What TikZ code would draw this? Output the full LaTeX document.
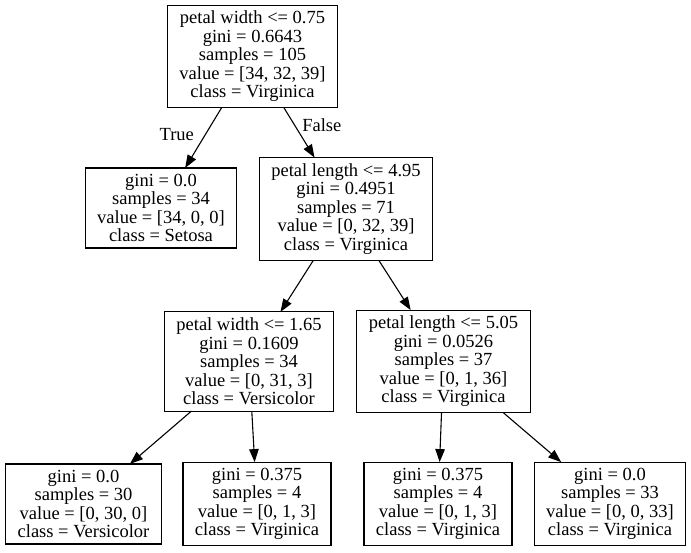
\documentclass[tikz,border=0pt]{standalone}
\usepackage{fontspec}
\setmainfont{Liberation Serif}
\usetikzlibrary{arrows.meta}

\begin{document}
\begin{tikzpicture}[x=1pt,y=-1pt,
  treenode/.style={draw,line width=1.1pt,align=center,inner xsep=12pt,inner ysep=6pt,
    outer sep=0pt,font=\fontsize{18.5}{18.5}\selectfont},
  edgelabel/.style={inner sep=0pt,font=\fontsize{18.5}{18.5}\selectfont}]

\useasboundingbox (0,0) rectangle (691,552);

\node[treenode] (root) at (252.5,56.5)
{petal width <= 0.75\\gini = 0.6643\\samples = 105\\value = [34, 32, 39]\\class = Virginica};

\node[treenode] (setosa) at (161,208)
{gini = 0.0\\samples = 34\\value = [34, 0, 0]\\class = Setosa};
\node[treenode] (lengthA) at (346,209)
{petal length <= 4.95\\gini = 0.4951\\samples = 71\\value = [0, 32, 39]\\class = Virginica};

\node[treenode] (widthB) at (249,361.5)
{petal width <= 1.65\\gini = 0.1609\\samples = 34\\value = [0, 31, 3]\\class = Versicolor};
\node[treenode] (lengthB) at (443.5,361.5)
{petal length <= 5.05\\gini = 0.0526\\samples = 37\\value = [0, 1, 36]\\class = Virginica};

\node[treenode] (versi) at (83.5,504)
{gini = 0.0\\samples = 30\\value = [0, 30, 0]\\class = Versicolor};
\node[treenode] (virgA) at (257,504)
{gini = 0.375\\samples = 4\\value = [0, 1, 3]\\class = Virginica};
\node[treenode] (virgB) at (438,504)
{gini = 0.375\\samples = 4\\value = [0, 1, 3]\\class = Virginica};
\node[treenode] (virgC) at (610,504)
{gini = 0.0\\samples = 33\\value = [0, 0, 33]\\class = Virginica};

\draw [line width=1.1pt,-{Triangle[length=13pt,width=9.5pt]}] (root) -- node [edgelabel,pos=0.44,left=11pt] {True} (setosa);
\draw [line width=1.1pt,-{Triangle[length=13pt,width=9.5pt]}] (root) -- node [edgelabel,pos=0.35,right=7pt] {False} (lengthA);

\draw [line width=1.1pt,-{Triangle[length=13pt,width=9.5pt]}] (lengthA) -- (widthB);
\draw [line width=1.1pt,-{Triangle[length=13pt,width=9.5pt]}] (lengthA) -- (lengthB);

\draw [line width=1.1pt,-{Triangle[length=13pt,width=9.5pt]}] (widthB) -- (versi);
\draw [line width=1.1pt,-{Triangle[length=13pt,width=9.5pt]}] (widthB) -- (virgA);
\draw [line width=1.1pt,-{Triangle[length=13pt,width=9.5pt]}] (lengthB) -- (virgB);
\draw [line width=1.1pt,-{Triangle[length=13pt,width=9.5pt]}] (lengthB) -- (virgC);

\end{tikzpicture}
\end{document}
